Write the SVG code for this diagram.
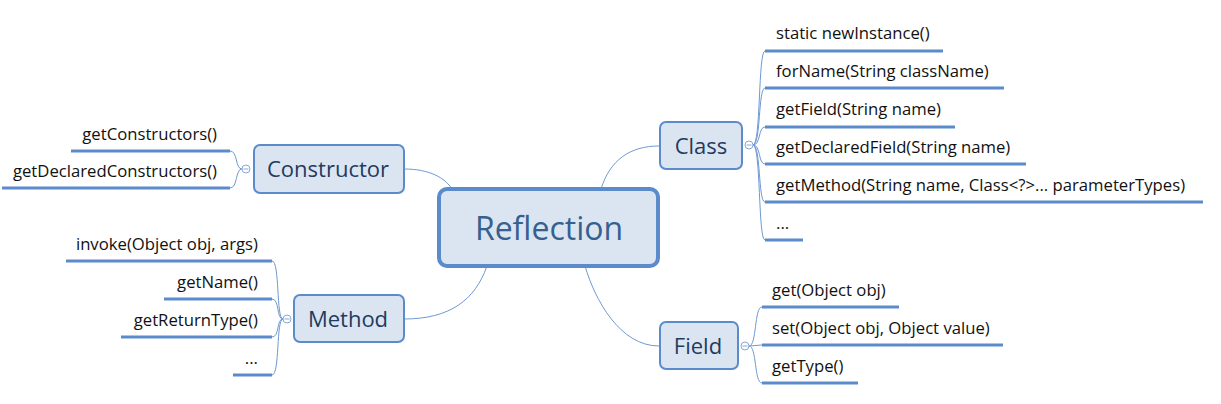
<svg xmlns="http://www.w3.org/2000/svg" width="1221" height="404" viewBox="0 0 1221 404">
<style>
.box{fill:#dbe5f1;stroke:#5b8bcb;stroke-width:2}
.main{fill:#dbe5f1;stroke:#5b8bcb;stroke-width:4}
.bt{font-family:"Open Sans","Noto Sans",sans-serif;font-size:22px;fill:#1f3b5e;text-anchor:middle}
.mt{font-family:"Open Sans","Noto Sans",sans-serif;font-size:32px;fill:#35608f;text-anchor:middle}
.t{font-family:"Open Sans","Noto Sans",sans-serif;font-size:16.7px;fill:#111}
.r{text-anchor:end}
.ul{stroke:#5b8bcb;stroke-width:3;fill:none}
.c{stroke:#6f99d2;stroke-width:1;fill:none}
.k{fill:#fff;stroke:#8aa9d6;stroke-width:1}
</style>
<rect width="1221" height="404" fill="#fff"/>
<g id="connectors">
<path class="c" d="M601,189 C610,160 630,146 659,146"/>
<path class="c" d="M404,169 C430,169 445,178 452,189"/>
<path class="c" d="M404,319 C450,319 475,300 487,266"/>
<path class="c" d="M585,266 C595,300 620,346 659,346"/>
<path class="c" d="M753,145 C761,145 758,51 765,51"/>
<path class="c" d="M753,145 C761,145 758,88 765,88"/>
<path class="c" d="M753,145 C761,145 758,127 765,127"/>
<path class="c" d="M753,145 C761,145 758,164 765,164"/>
<path class="c" d="M753,145 C761,145 758,202 765,202"/>
<path class="c" d="M753,145 C761,145 758,240 765,240"/>
<path class="c" d="M242,169 C235,169 238,151 230,151"/>
<path class="c" d="M242,169 C235,169 238,188 230,188"/>
<path class="c" d="M283,319 C276,319 280,261 272,261"/>
<path class="c" d="M283,319 C276,319 280,299 272,299"/>
<path class="c" d="M283,319 C276,319 280,337 272,337"/>
<path class="c" d="M283,319 C276,319 280,375 272,375"/>
<path class="c" d="M749,346 C757,346 754,307 762,307"/>
<path class="c" d="M749,346 L762,345"/>
<path class="c" d="M749,346 C757,346 754,383 762,383"/>
</g>
<g id="reflection">
<rect class="main" x="439" y="189" width="219" height="77" rx="8"/>
<text class="mt" x="549" y="240">Reflection</text>
</g>
<g id="class">
<rect class="box" x="660" y="122" width="82" height="47" rx="6"/>
<text class="bt" x="701" y="154">Class</text>
<circle class="k" cx="749" cy="145" r="4"/><path d="M746.5,145h5" stroke="#8aa9d6"/>
</g>
<g id="constructor">
<rect class="box" x="254" y="145" width="150" height="48" rx="6"/>
<text class="bt" x="328" y="177">Constructor</text>
<circle class="k" cx="246" cy="169" r="4"/><path d="M243.5,169h5" stroke="#8aa9d6"/>
</g>
<g id="method">
<rect class="box" x="294" y="295" width="110" height="47" rx="6"/>
<text class="bt" x="348" y="327">Method</text>
<circle class="k" cx="287" cy="319" r="4"/><path d="M284.5,319h5" stroke="#8aa9d6"/>
</g>
<g id="field">
<rect class="box" x="660" y="322" width="78" height="47" rx="6"/>
<text class="bt" x="698" y="354">Field</text>
<circle class="k" cx="745" cy="346" r="4"/><path d="M742.5,346h5" stroke="#8aa9d6"/>
</g>
<g id="class-items">
<path class="ul" d="M765,51H943M765,88H1004M765,127H955M765,164H1026M765,202H1203M765,240H803"/>
<text class="t" x="776" y="39">static newInstance()</text>
<text class="t" x="776" y="77">forName(String className)</text>
<text class="t" x="776" y="115">getField(String name)</text>
<text class="t" x="776" y="153">getDeclaredField(String name)</text>
<text class="t" x="776" y="191">getMethod(String name, Class&lt;?&gt;... parameterTypes)</text>
<text class="t" x="776" y="229">...</text>
</g>
<g id="constructor-items">
<path class="ul" d="M71,151H230M2,188H230"/>
<text class="t r" x="217" y="140">getConstructors()</text>
<text class="t r" x="217" y="177">getDeclaredConstructors()</text>
</g>
<g id="method-items">
<path class="ul" d="M66,261H272M164,299H272M121,337H272M233,375H272"/>
<text class="t r" x="258" y="250">invoke(Object obj, args)</text>
<text class="t r" x="258" y="288">getName()</text>
<text class="t r" x="258" y="326">getReturnType()</text>
<text class="t r" x="258" y="364">...</text>
</g>
<g id="field-items">
<path class="ul" d="M762,307H899M762,345H1003M762,383H858"/>
<text class="t" x="772" y="296">get(Object obj)</text>
<text class="t" x="772" y="334">set(Object obj, Object value)</text>
<text class="t" x="772" y="372">getType()</text>
</g>
</svg>
